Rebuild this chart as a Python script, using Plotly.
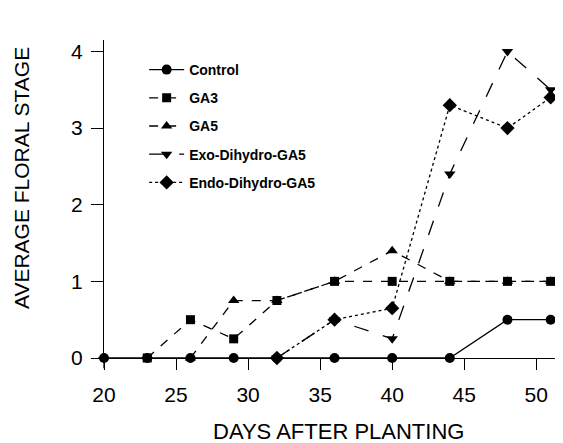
import plotly.graph_objects as go

days_control = [20, 23, 26, 29, 32, 36, 40, 44, 48, 51]
control = [0, 0, 0, 0, 0, 0, 0, 0, 0.5, 0.5]

days_ga3 = [23, 26, 29, 32, 36, 40, 44, 48, 51]
ga3 = [0, 0.5, 0.25, 0.75, 1, 1, 1, 1, 1]

days_ga5 = [26, 29, 32, 36, 40, 44, 48, 51]
ga5 = [0, 0.75, 0.75, 1, 1.4, 1, 1, 1]

days_exo = [32, 36, 40, 44, 48, 51]
exo = [0, 0.5, 0.25, 2.4, 4.0, 3.5]

days_endo = [32, 36, 40, 44, 48, 51]
endo = [0, 0.5, 0.65, 3.3, 3.0, 3.4]

x_ticks = [20, 25, 30, 35, 40, 45, 50]
y_ticks = [0, 1, 2, 3, 4]

x_title = "DAYS AFTER PLANTING"
y_title = "AVERAGE FLORAL STAGE"

series = [
    # name, x, y, symbol, dash, marker size, legend rank
    ("GA5", days_ga5, ga5, "triangle-up", "dash", 10, 3),
    ("Exo-Dihydro-GA5", days_exo, exo, "triangle-down", "longdash", 10, 4),
    ("Control", days_control, control, "circle", "solid", 10, 1),
    ("GA3", days_ga3, ga3, "square", "dash", 9, 2),
    ("Endo-Dihydro-GA5", days_endo, endo, "diamond", "dot", 11, 5),
]

FONT = "Liberation Sans, Arial, sans-serif"

fig = go.Figure()
for name, xs, ys, sym, dash, size, rank in series:
    fig.add_trace(go.Scatter(
        x=xs, y=ys, name=name, mode="lines+markers",
        line=dict(color="black", width=1.3, dash=dash),
        marker=dict(symbol=sym, size=size, color="black"),
        legendrank=rank, legendgroup=name, cliponaxis=False,
    ))

fig.update_layout(
    width=555, height=435,
    paper_bgcolor="white", plot_bgcolor="white",
    margin=dict(l=96, r=8, t=32, b=85),
    font=dict(family=FONT, color="black"),
    legend=dict(
        x=0.089, y=0.956, xanchor="left", yanchor="top",
        bgcolor="rgba(0,0,0,0)", tracegroupgap=7, itemwidth=35,
        font=dict(size=14, family=FONT, weight="bold"),
    ),
    xaxis=dict(
        range=[20, 51.3], tickvals=x_ticks, ticks="outside", ticklen=11,
        tickwidth=1, tickcolor="black", showline=True, linecolor="black",
        linewidth=1.3, showgrid=False, zeroline=False,
        tickfont=dict(size=21), ticklabelstandoff=7,
    ),
    yaxis=dict(
        range=[0, 4.15], tickvals=y_ticks, ticks="outside", ticklen=12,
        tickwidth=1, tickcolor="black", showline=True, linecolor="black",
        linewidth=1.3, showgrid=False, zeroline=False,
        tickfont=dict(size=21), ticklabelstandoff=4,
    ),
    showlegend=True,
)

# axis titles placed as in the original
fig.add_annotation(text=x_title, xref="paper", yref="paper", x=0.519, y=-0.232,
                   xanchor="center", yanchor="middle", showarrow=False,
                   font=dict(size=22, family=FONT))
fig.add_annotation(text=y_title, xref="paper", yref="paper", x=-0.184, y=0.566,
                   xanchor="center", yanchor="middle", showarrow=False, textangle=-90,
                   font=dict(size=21, family=FONT))

# axis line extensions (SigmaPlot style)
fig.add_shape(type="line", xref="paper", yref="paper", x0=0, x1=0, y0=0, y1=-0.032,
              line=dict(color="black", width=1.3))
fig.add_shape(type="line", xref="paper", yref="paper", x0=-0.013, x1=0, y0=0, y1=0,
              line=dict(color="black", width=1.3))

fig.write_html("out.html")
